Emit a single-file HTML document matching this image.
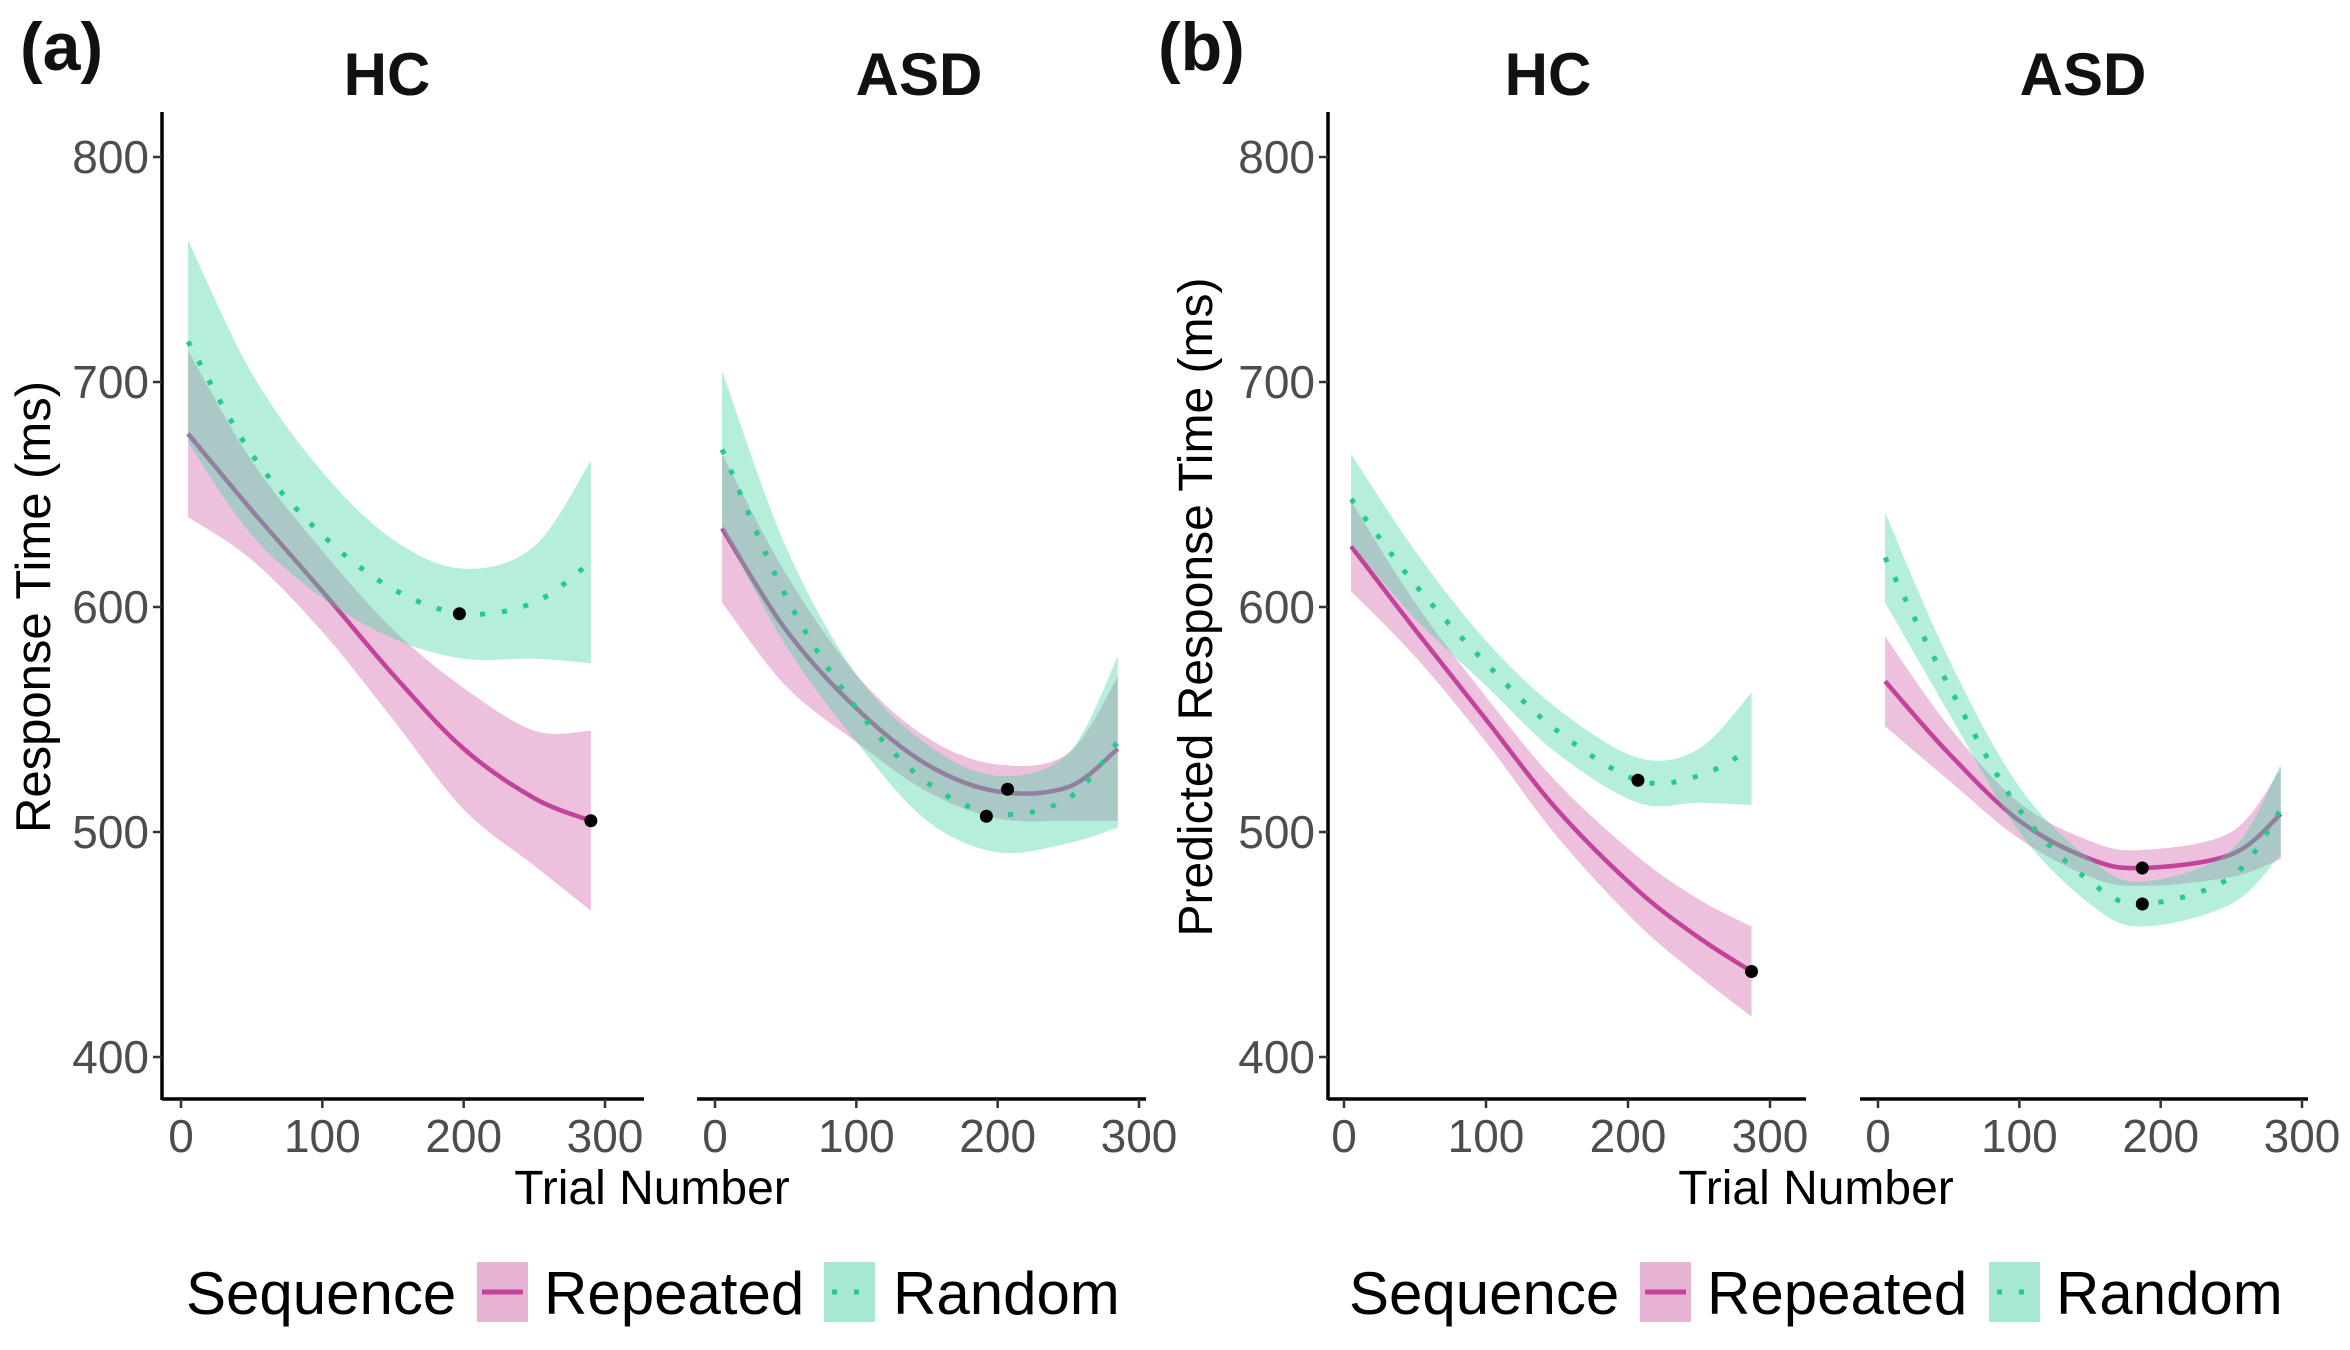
<!DOCTYPE html>
<html><head><meta charset="utf-8"><style>
body{margin:0;background:#fff}
svg text{font-family:"Liberation Sans",sans-serif}
</style></head><body>
<svg id="chart" width="2350" height="1345" viewBox="0 0 2350 1345" xmlns="http://www.w3.org/2000/svg">
<g id="root"></g>
</svg>
<script>
const trialTicks=[0,100,200,300];
const rtTicks=[400,500,600,700,800];
const aHcX=[5,50,100,150,200,250,290];
const aHcRand=[718,668,632,608,597,602,620];
const aHcRandSe=[45,36,28,22,20,25,45];
const aHcRep=[677,643,607,570,537,515,505];
const aHcRepSe=[37,22,18,20,27,30,40];
const aAsdX=[5,50,100,150,200,250,285];
const aAsdRand=[670,605,555,522,508,515,540];
const aAsdRandSe=[35,22,15,17,17,20,38];
const aAsdRep=[635,590,555,530,518,520,537];
const aAsdRepSe=[33,25,15,12,12,15,32];
const bHcX=[5,50,100,150,207,250,287];
const bHcRand=[648,610,575,545,523,525,537];
const bHcRandSe=[20,15,10,10,10,12,25];
const bHcRep=[627,590,550,510,474,453,438];
const bHcRepSe=[20,12,10,12,15,17,20];
const bAsdX=[5,50,100,150,187,250,285];
const bAsdRand=[622,565,510,478,468,480,510];
const bAsdRandSe=[20,12,10,10,10,12,20];
const bAsdRep=[567,535,505,488,484,490,508];
const bAsdRepSe=[20,12,8,8,8,10,20];
const minPts=[[197,597,'rand'],[290,505,'rep'],[192,507,'rand'],[207,519,'rep'],[207,523,'rand'],[287,438,'rep'],[187,484,'rep'],[187,468,'rand']];

const NS="http://www.w3.org/2000/svg";
const root=document.getElementById('root');
function el(t,a,p){const e=document.createElementNS(NS,t);for(const k in a)e.setAttribute(k,a[k]);(p||root).appendChild(e);return e;}
const yS=v=>157+(800-v)*2.25;
function path(pts){let d='M'+pts[0][0]+','+pts[0][1];for(let i=0;i<pts.length-1;i++){const p0=pts[Math.max(0,i-1)],p1=pts[i],p2=pts[i+1],p3=pts[Math.min(pts.length-1,i+2)];
d+=' C'+(p1[0]+(p2[0]-p0[0])/6)+','+(p1[1]+(p2[1]-p0[1])/6)+' '+(p2[0]-(p3[0]-p1[0])/6)+','+(p2[1]-(p3[1]-p1[1])/6)+' '+p2[0]+','+p2[1];}return d;}
const PINK='#c2449a',GREEN='#27c98f';
const panels=[
 {name:'a-hc',x0:181,x1:605,axL:162,axR:644,yaxis:true,title:'HC',tc:387,X:aHcX,rand:aHcRand,rse:aHcRandSe,rep:aHcRep,pse:aHcRepSe,pts:[0,1]},
 {name:'a-asd',x0:715,x1:1139,axL:697,axR:1146,yaxis:false,title:'ASD',tc:919,X:aAsdX,rand:aAsdRand,rse:aAsdRandSe,rep:aAsdRep,pse:aAsdRepSe,pts:[2,3]},
 {name:'b-hc',x0:1344,x1:1770,axL:1328,axR:1806,yaxis:true,title:'HC',tc:1548,X:bHcX,rand:bHcRand,rse:bHcRandSe,rep:bHcRep,pse:bHcRepSe,pts:[4,5]},
 {name:'b-asd',x0:1878,x1:2302,axL:1860,axR:2308,yaxis:false,title:'ASD',tc:2083,X:bAsdX,rand:bAsdRand,rse:bAsdRandSe,rep:bAsdRep,pse:bAsdRepSe,pts:[6,7]}];
panels.forEach(P=>{
 const xS=v=>P.x0+(P.x1-P.x0)*v/300;
 const g=el('g',{});
 
 
 const t=el('text',{x:P.tc,y:95,'text-anchor':'middle','font-size':60,'font-weight':'bold',fill:'#111'},g);t.textContent=P.title;
 
 function ribbon(vals,se,col,nm){const up=P.X.map((x,i)=>[xS(x),yS(vals[i]+se[i])]);const lo=P.X.map((x,i)=>[xS(x),yS(vals[i]-se[i])]).reverse();
  let d=path(up)+' L'+lo[0][0]+','+lo[0][1]+path(lo).replace(/^M[^C]*/,' ')+' Z';
  const r=el('path',{d:d,fill:col,'fill-opacity':0.42,stroke:'none'},g);
  }
 ribbon(P.rep,P.pse,'#d46aae','ribbon-repeated');
 const l1=el('path',{d:path(P.X.map((x,i)=>[xS(x),yS(P.rep[i])])),fill:'none',stroke:PINK,'stroke-width':4.5},g);
 
 ribbon(P.rand,P.rse,'#4fd6a6','ribbon-random');
 const l2=el('path',{d:path(P.X.map((x,i)=>[xS(x),yS(P.rand[i])])),fill:'none',stroke:GREEN,'stroke-width':5,'stroke-dasharray':'5 17'},g);
 
 P.pts.forEach(k=>{const m=minPts[k];const c=el('circle',{cx:xS(m[0]),cy:yS(m[1]),r:6.5,fill:'#000'},g);
  });
 el('line',{x1:P.axL,x2:P.axR,y1:1099,y2:1099,stroke:'#000','stroke-width':3.5},g);
 trialTicks.forEach(v=>{el('line',{x1:xS(v),x2:xS(v),y1:1099,y2:1108,stroke:'#333','stroke-width':2.5},g);
  const tt=el('text',{x:xS(v),y:1152,'text-anchor':'middle','font-size':46,fill:'#4d4d4d'},g);tt.textContent=v;
  });
 if(P.yaxis){el('line',{x1:P.axL,x2:P.axL,y1:112,y2:1100,stroke:'#000','stroke-width':3.5},g);
  rtTicks.forEach(v=>{el('line',{x1:P.axL-9,x2:P.axL,y1:yS(v),y2:yS(v),stroke:'#333','stroke-width':2.5},g);
   const tt=el('text',{x:P.axL-13,y:yS(v)+16,'text-anchor':'end','font-size':46,fill:'#4d4d4d'},g);tt.textContent=v;
   });}
});
</script>
<script>
const svg=document.getElementById('chart');
function T(txt,a,name){const e=document.createElementNS("http://www.w3.org/2000/svg",'text');for(const k in a)e.setAttribute(k,a[k]);e.textContent=txt;
 
 
 svg.appendChild(e);return e;}
T('(a)',{x:20,y:70,'font-size':68,'font-weight':'bold',fill:'#111'},'panel-label-a');
T('(b)',{x:1158,y:70,'font-size':68,'font-weight':'bold',fill:'#111'},'panel-label-b');
T('Trial Number',{x:652,y:1204,'text-anchor':'middle','font-size':48,fill:'#000'},'x-axis-title-a');
T('Trial Number',{x:1816,y:1204,'text-anchor':'middle','font-size':48,fill:'#000'},'x-axis-title-b');
T('Response Time (ms)',{x:0,y:0,'text-anchor':'middle','font-size':49,fill:'#000',transform:'translate(50,607) rotate(-90)'},'y-axis-title-a');
T('Predicted Response Time (ms)',{x:0,y:0,'text-anchor':'middle','font-size':48,fill:'#000',transform:'translate(1212,607) rotate(-90)'},'y-axis-title-b');
[[186,477,544,824,893],[1349,1640,1707,1989,2056]].forEach((L,i)=>{
 T('Sequence',{x:L[0],y:1314,'font-size':60,fill:'#000'},'legend-title');
 const NS="http://www.w3.org/2000/svg";
 const g=document.createElementNS(NS,'g');
 
 
 g.innerHTML='<rect x="'+L[1]+'" y="1262" width="51" height="60" fill="#e7b3d5"/><line x1="'+(L[1]+5)+'" x2="'+(L[1]+46)+'" y1="1292" y2="1292" stroke="#c2449a" stroke-width="5"/>';
 svg.appendChild(g);
 T('Repeated',{x:L[2],y:1314,'font-size':60,fill:'#000'},'legend-label-repeated');
 const g2=document.createElementNS(NS,'g');
 
 
 g2.innerHTML='<rect x="'+L[3]+'" y="1262" width="51" height="60" fill="#a6e8d1"/><line x1="'+(L[3]+8)+'" x2="'+(L[3]+46)+'" y1="1292" y2="1292" stroke="#27c98f" stroke-width="5" stroke-dasharray="5 17"/>';
 svg.appendChild(g2);
 T('Random',{x:L[4],y:1314,'font-size':60,fill:'#000'},'legend-label-random');
});
</script>
</body></html>
